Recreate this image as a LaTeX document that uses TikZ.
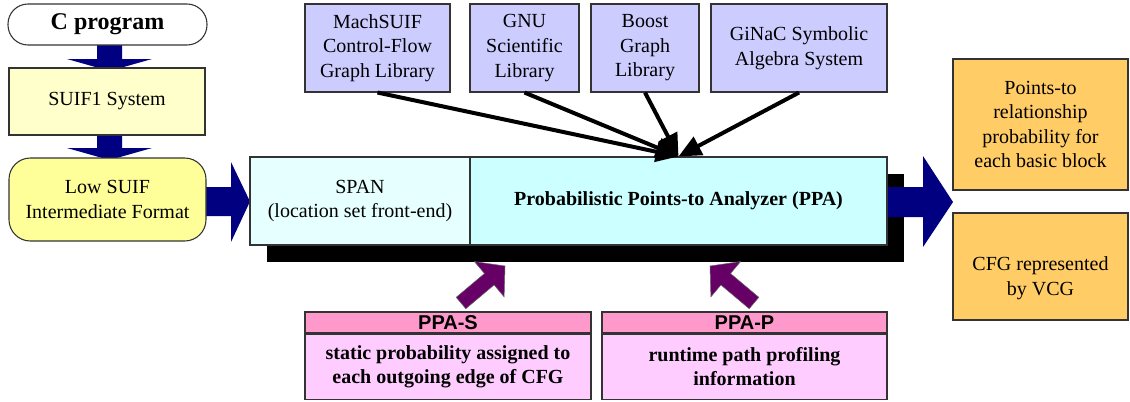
\documentclass[tikz,border=0pt]{standalone}
\usepackage{fontspec}
\setmainfont{Liberation Serif}
\newfontfamily\headfont{Liberation Sans}
\usetikzlibrary{arrows.meta}
\definecolor{navyc}{HTML}{000080}
\definecolor{purplec}{HTML}{660066}
\definecolor{suifone}{HTML}{FFFFCC}
\definecolor{lowsuif}{HTML}{FFFF99}
\definecolor{spanc}{HTML}{E6FFFF}
\definecolor{ppac}{HTML}{CCFFFF}
\definecolor{libc}{HTML}{CCCCFF}
\definecolor{outc}{HTML}{FFCC66}
\definecolor{headc}{HTML}{FF99CC}
\definecolor{bodyc}{HTML}{FFCCFF}
\begin{document}
\begin{tikzpicture}[x=0.75pt,y=-0.75pt,
  box/.style={draw=black!80, line width=0.8pt, align=center, inner sep=0pt,
    font=\fontsize{15}{18.4}\selectfont},
  bblock/.style={fill=navyc, draw=none},
  pblock/.style={fill=purplec, draw=black!60, line width=0.4pt},
  libarrow/.style={line width=3pt, -{Triangle[length=17pt,width=15pt]}},
  hdr/.style={box, fill=headc, font=\headfont\bfseries\fontsize{15}{18}\selectfont},
  bdy/.style={box, fill=bodyc, font=\bfseries\fontsize{15}{18.4}\selectfont}]
\useasboundingbox (0,0) rectangle (1130,401);

% navy block arrows (drawn beneath boxes)
\fill[bblock] (97,43) -- (122,43) -- (122,59) -- (152,59) -- (109.5,71) -- (67,59) -- (97,59) -- cycle;
\fill[bblock] (97,133) -- (122,133) -- (122,148) -- (152,148) -- (109.5,160) -- (67,148) -- (97,148) -- cycle;
\fill[bblock] (200,187) -- (231,187) -- (231,162) -- (250,201.5) -- (231,242) -- (231,216) -- (200,216) -- cycle;

% left column
\node[box, fill=white, rounded corners=15pt, minimum width=149.25pt, minimum height=30.75pt,
  font=\bfseries\fontsize{18}{20}\selectfont] (cprog) at (107.5,24.5) {C program};
\node[box, fill=suifone, minimum width=147pt, minimum height=50.25pt] (suif) at (107,101.5) {SUIF1 System};
\node[box, fill=lowsuif, rounded corners=16pt, minimum width=147.75pt, minimum height=62.25pt] (low) at (107.5,199.5) {Low SUIF\\Intermediate Format};

% shadow and main analyzer boxes
\fill[black] (267,174) rectangle (904,262);
\fill[bblock] (880,187) -- (923,187) -- (923,156) -- (953,202) -- (923,247) -- (923,217) -- (880,217) -- cycle;
\node[box, fill=spanc, minimum width=165pt, minimum height=66pt] (span) at (360,201) {SPAN\\(location set front-end)};
\node[box, fill=ppac, minimum width=312.75pt, minimum height=66pt,
  font=\bfseries\fontsize{15}{18.4}\selectfont] (ppa) at (678.5,201) {Probabilistic Points-to Analyzer (PPA)};

% libraries
\node[box, fill=libc, minimum width=108.75pt, minimum height=66pt] (mach) at (377.5,48) {MachSUIF\\Control-Flow\\Graph Library};
\node[box, fill=libc, minimum width=81.75pt, minimum height=66pt] (gnu) at (524.5,48) {GNU\\Scientific\\Library};
\node[box, fill=libc, minimum width=81pt, minimum height=66pt] (boost) at (645,48) {Boost\\Graph\\Library};
\node[box, fill=libc, minimum width=132pt, minimum height=66pt] (ginac) at (799,48) {GiNaC Symbolic\\Algebra System};

\draw[libarrow] (mach.south) -- (ppa.north);
\draw[libarrow] (gnu.south) -- (ppa.north);
\draw[libarrow] (boost.south) -- (ppa.north);
\draw[libarrow] (ginac.south) -- (ppa.north);

% outputs
\node[box, fill=outc, minimum width=131.25pt, minimum height=98.25pt] (pts) at (1040.5,124.5) {Points-to\\relationship\\probability for\\each basic block};
\node[box, fill=outc, minimum width=131.25pt, minimum height=80.25pt] (cfg) at (1040.5,266.5) {};
\node[box, draw=none, fill=none] (cfgtext) at (1040.5,278) {CFG represented\\by VCG};

% PPA-S / PPA-P
\node[hdr, minimum width=214.5pt, minimum height=15.75pt] (ppasH) at (448,322.5) {PPA-S};
\node[bdy, minimum width=214.5pt, minimum height=48.75pt, anchor=north] (ppasB) at (ppasH.south) {static probability assigned to\\each outgoing edge of CFG};
\node[hdr, minimum width=213.75pt, minimum height=15.75pt] (ppapH) at (744.5,322.5) {PPA-P};
\node[bdy, minimum width=213.75pt, minimum height=48.75pt, anchor=north] (ppapB) at (ppapH.south) {runtime path profiling\\information};

% purple block arrows
\filldraw[pblock] (456.2,297.3) -- (484.5,273.5) -- (474.5,261.6) -- (505,266) -- (504.1,296.8) -- (494.1,284.9) -- (465.8,308.7) -- cycle;
\filldraw[pblock] (758.8,297.3) -- (730.5,273.5) -- (740.5,261.6) -- (710,266) -- (710.9,296.8) -- (720.9,284.9) -- (749.2,308.7) -- cycle;
\end{tikzpicture}
\end{document}
